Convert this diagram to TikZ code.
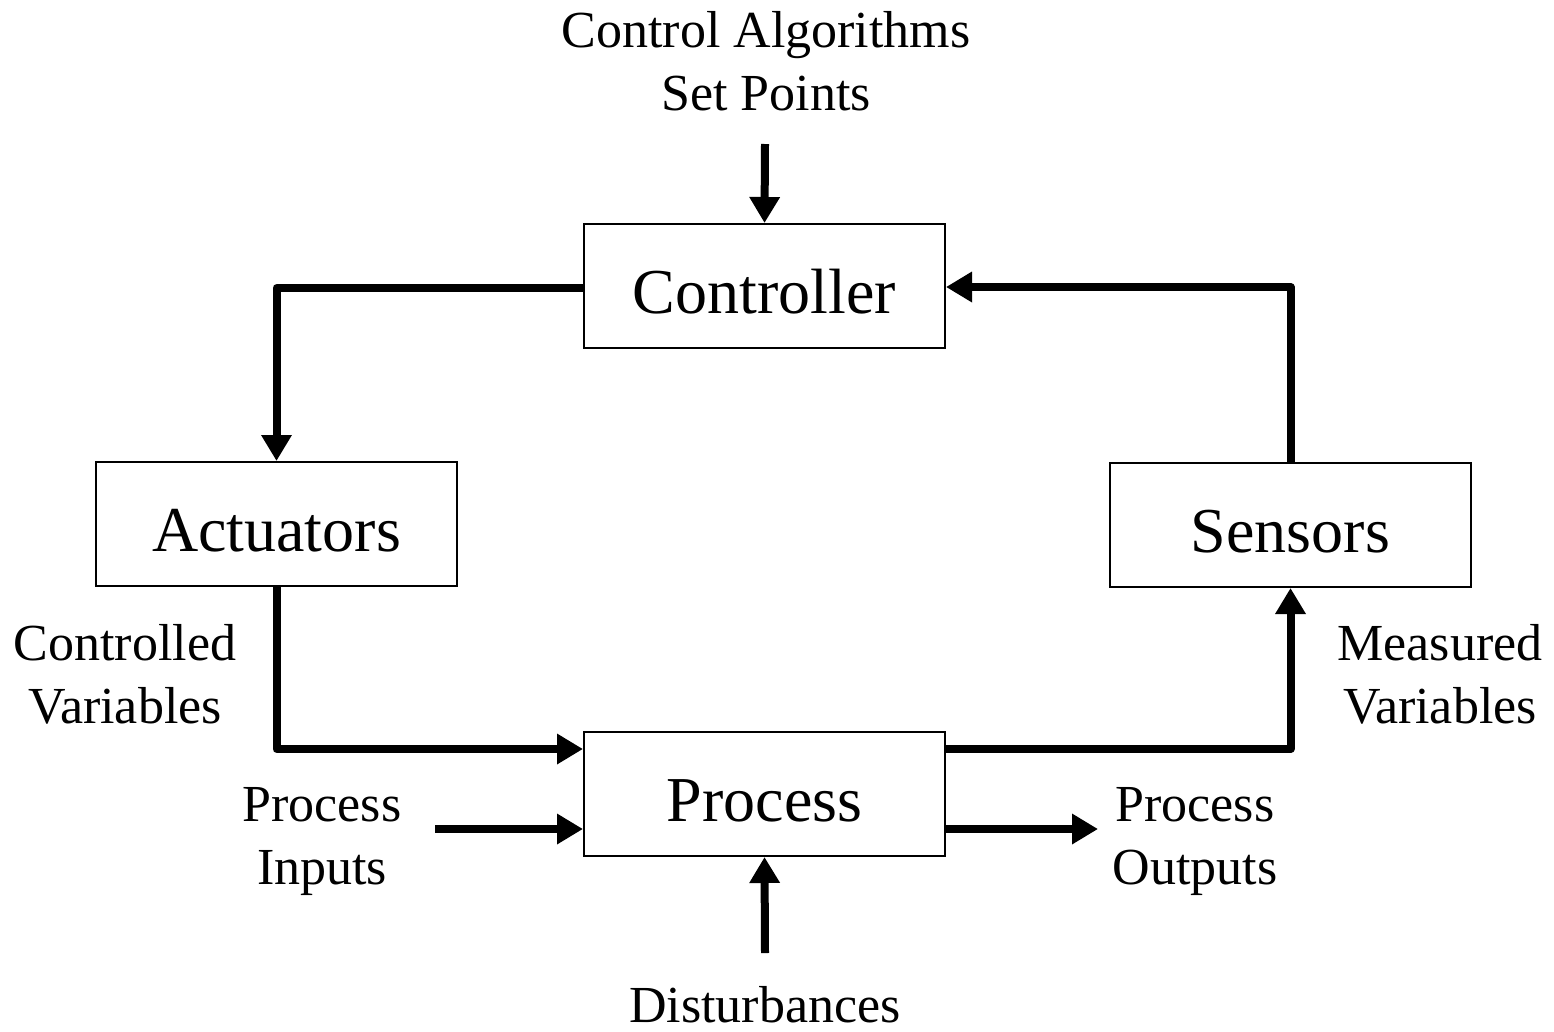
\documentclass[tikz,border=0pt]{standalone}
\usepackage{fontspec}
\setmainfont{Liberation Serif}
\usetikzlibrary{arrows.meta}
\begin{document}
\begin{tikzpicture}[x=1pt,y=-1pt,
  block/.style={draw,line width=2pt,minimum width=361pt,minimum height=124pt,inner sep=0pt,
    text height=54pt,text depth=0pt,font=\fontsize{64}{77}\selectfont},
  lbl/.style={align=center,inner sep=0pt,font=\fontsize{52}{63}\selectfont},
  flow/.style={line width=8pt,line join=round,-{Triangle[length=26pt,width=29pt]}}]
\useasboundingbox (0,0) rectangle (1554,1031);

% blocks
\node[block] (ctrl) at (764.5,286) {Controller};
\node[block] (act)  at (276.5,524) {Actuators};
\node[block] (sens) at (1290.5,525) {Sensors};
\node[block] (proc) at (764.5,794) {Process};

% free labels
\node[lbl] (setp) at (766,61) {Control Algorithms\\Set Points};
\node[lbl] (cvar) at (125,674) {Controlled\\Variables};
\node[lbl] (mvar) at (1440,674) {Measured\\Variables};
\node[lbl] (pin)  at (322,841) {Process\\Inputs};
\node[lbl] (pout) at (1195,841) {Process\\Outputs};
\node[lbl] (dist) at (765,1005) {Disturbances};

% free ends of the open arrows
\coordinate (setpEnd) at (765,144);
\coordinate (pinEnd) at (435,829);
\coordinate (poutEnd) at (1098,829);
\coordinate (distEnd) at (765,953);

% loop connectors
\draw[flow] (ctrl.west |- 0,288) -| (act.north);
\draw[flow] (act.south) |- (proc.west |- 0,749);
\draw[flow] (proc.east |- 0,749) -| (sens.south);
\draw[flow] (sens.north) |- (ctrl.east |- 0,287);

% external connectors
\draw[flow] (setpEnd) -- (ctrl.north);
\draw[flow] (pinEnd) -- (proc.west |- pinEnd);
\draw[flow] (proc.east |- poutEnd) -- (poutEnd);
\draw[flow] (distEnd) -- (proc.south);
\end{tikzpicture}
\end{document}
